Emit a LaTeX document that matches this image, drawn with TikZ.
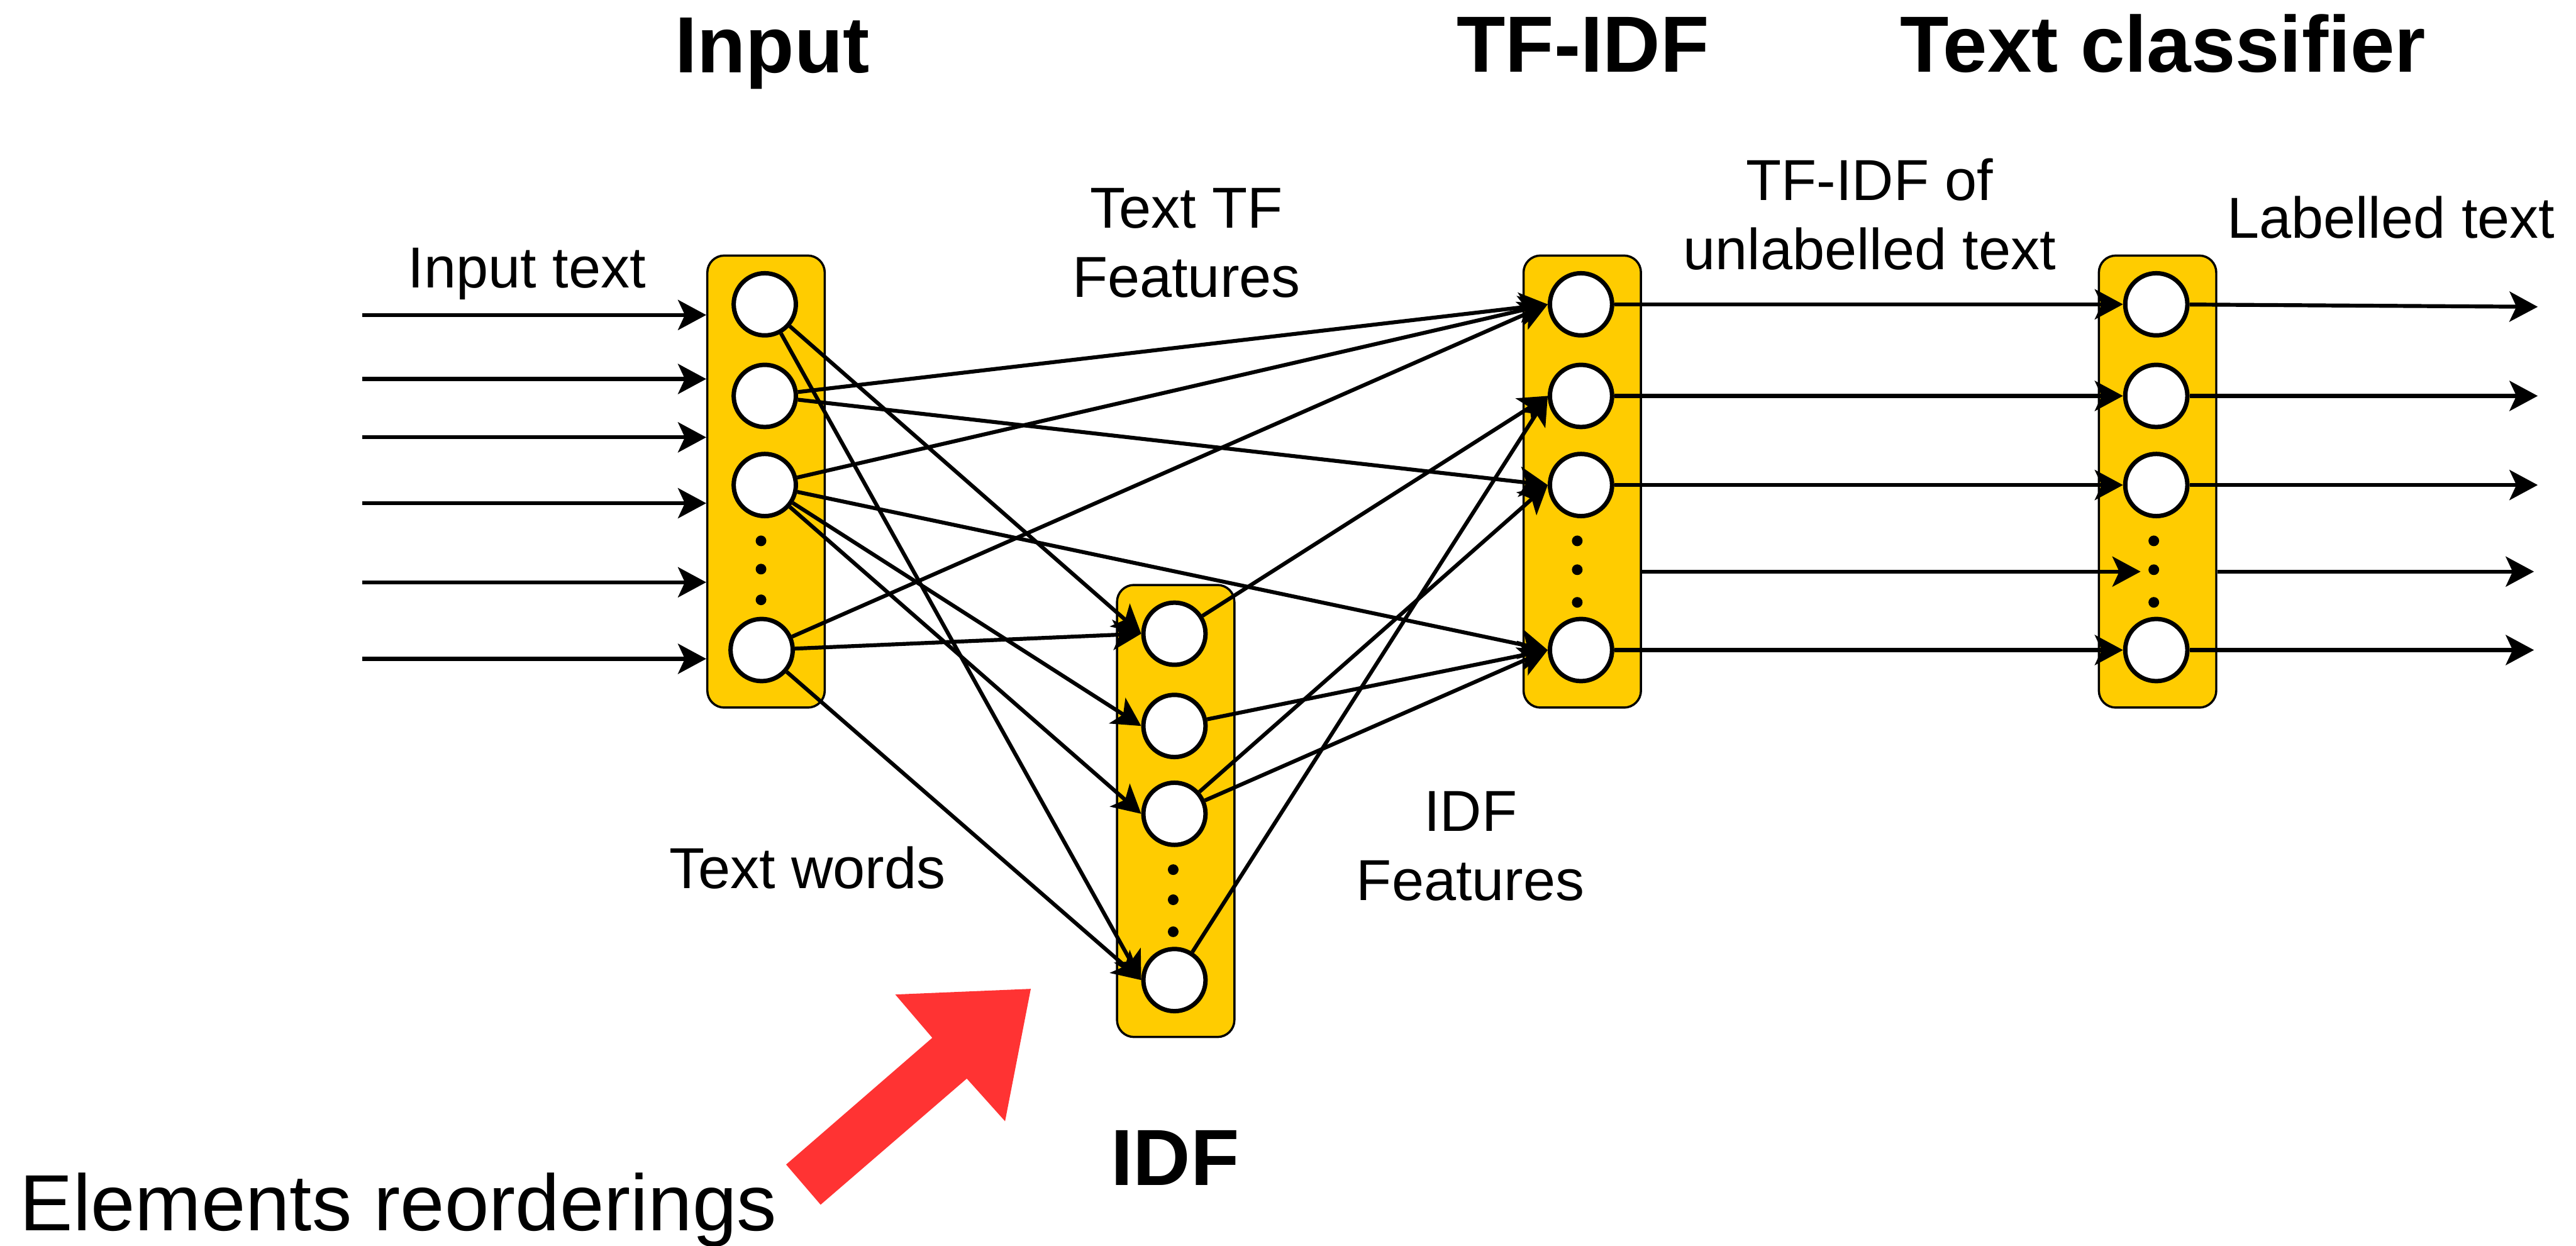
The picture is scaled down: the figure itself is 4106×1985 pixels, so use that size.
\documentclass[tikz,border=0pt]{standalone}
\usepackage{fontspec}
\setmainfont{Liberation Sans}
\usetikzlibrary{arrows.meta}
\definecolor{layeryellow}{HTML}{FFCC00}
\definecolor{arrowred}{HTML}{FF3333}
\begin{document}
\begin{tikzpicture}[x=0.01cm,y=-0.01cm,
  layerbox/.style={draw=black, line width=0.035cm, fill=layeryellow, rounded corners=0.27cm, minimum width=1.87cm, minimum height=7.2cm, inner sep=0pt},
  neuron/.style={circle, draw=black, line width=0.07cm, fill=white, minimum size=0.99cm, inner sep=0pt},
  dotmark/.style={circle, fill=black, minimum size=0.17cm, inner sep=0pt},
  conn/.style={line width=0.062cm, -{Stealth[length=0.45cm, width=0.48cm, inset=0.11cm]}},
  lbl/.style={font=\fontsize{26.2pt}{31.5pt}\selectfont, align=center, inner sep=0pt, anchor=base},
  ttl/.style={font=\fontsize{36.1pt}{42pt}\selectfont\bfseries, inner sep=0pt, anchor=base},
]
\useasboundingbox (0,0) rectangle (4106,1985);

% layer boxes
\node[layerbox] (boxin) at (1221,767.5) {};
\node[layerbox] (boxidf) at (1874,1292.5) {};
\node[layerbox] (boxtf) at (2522,767.5) {};
\node[layerbox] (boxcl) at (3439,767.5) {};

% neurons
\node[neuron] (I1) at (1219,485) {};
\node[neuron] (I2) at (1219,631) {};
\node[neuron] (I3) at (1219,773) {};
\node[neuron] (I4) at (1214,1036) {};
\node[neuron] (D1) at (1872,1010) {};
\node[neuron] (D2) at (1872,1157) {};
\node[neuron] (D3) at (1872,1297) {};
\node[neuron] (D4) at (1872,1562) {};
\node[neuron] (T1) at (2520,485) {};
\node[neuron] (T2) at (2520,631) {};
\node[neuron] (T3) at (2520,773) {};
\node[neuron] (T4) at (2520,1036) {};
\node[neuron] (C1) at (3437,485) {};
\node[neuron] (C2) at (3437,631) {};
\node[neuron] (C3) at (3437,773) {};
\node[neuron] (C4) at (3437,1036) {};

% dots
\foreach \y [count=\i] in {862,907,956} \node[dotmark] (di\i) at (1213,\y) {};
\foreach \y [count=\i] in {1386,1434,1485} \node[dotmark] (dd\i) at (1870,\y) {};
\foreach \y [count=\i] in {862,908,960} \node[dotmark] (dt\i) at (2514,\y) {};
\foreach \y [count=\i] in {862,908,960} \node[dotmark] (dc\i) at (3433,\y) {};

% input arrows
\foreach \y [count=\i] in {502,604,697,802,928,1050} {
  \coordinate (in\i) at (577,\y);
  \draw[conn] (in\i) -- (boxin.west |- in\i);
}

% input -> IDF / TF-IDF
\draw[conn] (I1) -- (D1.west);
\draw[conn] (I1) -- (D4.west);
\draw[conn] (I2) -- (T1.west);
\draw[conn] (I2) -- (T3.west);
\draw[conn] (I3) -- (T1.west);
\draw[conn] (I3) -- (T4.west);
\draw[conn] (I3) -- (D2.west);
\draw[conn] (I3) -- (D3.west);
\draw[conn] (I4) -- (T1.west);
\draw[conn] (I4) -- (D1.west);
\draw[conn] (I4) -- (D4.west);

% IDF -> TF-IDF
\draw[conn] (D1) -- (T2.west);
\draw[conn] (D2) -- (T4.west);
\draw[conn] (D3) -- (T3.west);
\draw[conn] (D3) -- (T4.west);
\draw[conn] (D4) -- (T2.west);

% TF-IDF -> classifier
\draw[conn] (T1) -- (C1.west);
\draw[conn] (T2) -- (C2.west);
\draw[conn] (T3) -- (C3.west);
\draw[conn] (T4) -- (C4.west);
\coordinate (dl) at (3412,911);
\draw[conn] (boxtf.east |- dl) -- (dl);

% outputs
\coordinate (out1) at (4045,489);
\coordinate (out2) at (4045,631);
\coordinate (out3) at (4045,773);
\coordinate (out4) at (4039,1036);
\coordinate (dout) at (4039,911);
\draw[conn] (C1) -- (out1);
\draw[conn] (C2) -- (out2);
\draw[conn] (C3) -- (out3);
\draw[conn] (C4) -- (out4);
\draw[conn] (boxcl.east |- dout) -- (dout);

% red arrow
\fill[arrowred] (1643,1576) -- (1427,1585) -- (1486,1654) -- (1253,1856) -- (1308,1920) -- (1541,1719) -- (1602,1787) -- cycle;

% labels (base = baseline of the last line)
\node[lbl] (lin) at (840,459) {Input text};
\node[lbl] (ltf) at (1891,474) {Text TF\\Features};
\node[lbl] (ltw) at (1287,1416) {Text words};
\node[lbl] (lidf) at (2344,1435) {IDF\\Features};
\node[lbl] (ltfidf) at (2980,430) {TF-IDF of\\unlabelled text};
\node[lbl] (llab) at (3811,379) {Labelled text};
\node[ttl] (tin) at (1231,116) {Input};
\node[ttl] (ttf) at (2523,115) {TF-IDF};
\node[ttl] (tcl) at (3448,115) {Text classifier};
\node[ttl] (tidf) at (1873,1889) {IDF};
\node[font=\fontsize{36.1pt}{42pt}\selectfont, inner sep=0pt, anchor=base] (lre) at (635,1961) {Elements reorderings};
\end{tikzpicture}
\end{document}
